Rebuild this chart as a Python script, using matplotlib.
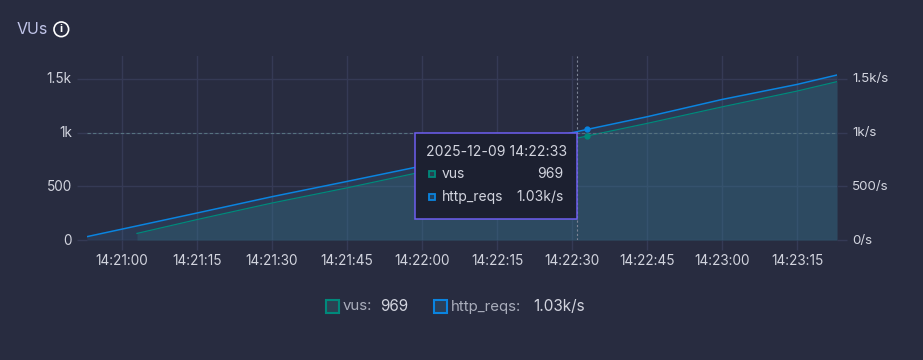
import matplotlib
matplotlib.use("Agg")
import matplotlib.pyplot as plt
from matplotlib.patches import Rectangle, Circle
from matplotlib.transforms import ScaledTranslation

plt.rcParams['font.family'] = ['Inter', 'DejaVu Sans']

# seconds after 14:21:00
reqs_t = [-7, 0, 15, 30, 45, 60, 93, 105, 120, 135, 143]
reqs_v = [32, 102, 252, 404, 546, 690, 1030, 1148, 1309, 1449, 1537]
vus_t = [3, 15, 30, 45, 60, 93, 105, 120, 135, 143]
vus_v = [62, 191, 345, 486, 635, 969, 1086, 1240, 1387, 1475]

tick_t = [0, 15, 30, 45, 60, 75, 90, 105, 120, 135]
tick_labels = ['14:21:00', '14:21:15', '14:21:30', '14:21:45', '14:22:00',
               '14:22:15', '14:22:30', '14:22:45', '14:23:00', '14:23:15']
y_ticks = [0, 500, 1000, 1500]
left_labels = ['0', '500', '1k', '1.5k']
right_labels = ['0/s', '500/s', '1k/s', '1.5k/s']

hover_t = 93
hover_vus = 969
hover_reqs = 1030
cursor_t = 91
threshold = 1000

BG = '#282c40'
GRID = '#353a55'
TEXT = '#d2d4de'
GREEN = '#00897b'
BLUE = '#0a84e0'
W, H = 923, 360

fig = plt.figure(figsize=(W / 100, H / 100), dpi=100, facecolor=BG)
ax = fig.add_axes([87 / W, 1 - 240.3 / H, 750 / W, 184 / H], facecolor=BG)
ax.set_xlim(-7, 143)
ax.set_ylim(-2, 1711)

ax.grid(True, color=GRID, lw=1, zorder=0)
ax.set_axisbelow(True)
ax.fill_between(reqs_t, 0, reqs_v, color='#3c72a4', alpha=0.2, lw=0, zorder=1)
ax.fill_between(vus_t, 0, vus_v, color='#337383', alpha=0.3, lw=0, zorder=1)
ax.plot(reqs_t, reqs_v, color=BLUE, lw=1.1, zorder=4)
ax.plot(vus_t, vus_v, color=GREEN, lw=0.9, zorder=3)
ax.axhline(threshold, color='#56727f', lw=0.8, ls=(0, (3, 2)), zorder=3)
ax.axvline(cursor_t, color='#7d8496', lw=0.8, ls=(0, (2, 2)), zorder=3)
ax.plot([hover_t], [hover_reqs], 'o', ms=3.5, color=BLUE, zorder=5)
ax.plot([hover_t], [hover_vus], 'o', ms=3.5, color=GREEN, zorder=5)

for s in ax.spines.values():
    s.set_visible(False)
ax.set_xticks(tick_t)
ax.set_xticklabels(tick_labels)
ax.set_yticks(y_ticks)
ax.set_yticklabels(left_labels)
ax.tick_params(axis='x', length=7, width=1, color=GRID, labelcolor=TEXT, labelsize=9.8, pad=3)
ax.tick_params(axis='y', length=7, width=1, color=GRID, labelcolor=TEXT, labelsize=9.8, pad=4)

ax2 = ax.twinx()
ax2.set_ylim(ax.get_ylim())
ax2.set_yticks(y_ticks)
ax2.set_yticklabels(right_labels)
ax2.tick_params(axis='y', length=7, width=1, color=GRID, labelcolor=TEXT, labelsize=9.6, pad=4)
for s in ax2.spines.values():
    s.set_visible(False)

# y labels sit a little above their gridlines
up = ScaledTranslation(0, 1 / 100, fig.dpi_scale_trans)
for lab in ax.get_yticklabels() + ax2.get_yticklabels():
    lab.set_transform(lab.get_transform() + up)

# overlay in pixels for title, tooltip and legend
ov = fig.add_axes([0, 0, 1, 1], facecolor='none', zorder=10)
ov.set_xlim(0, W)
ov.set_ylim(H, 0)
ov.axis('off')

ov.text(17, 30, 'VUs', color='#c0c4e8', fontsize=11.5, va='center')
ov.add_patch(Circle((61.3, 29.3), 7.3, fc='none', ec='white', lw=1.2))
ov.text(61.3, 29.3, 'i', color='white', fontsize=8, fontweight='bold', ha='center', va='center')

ov.add_patch(Rectangle((414.5, 132.5), 162, 86, fc='#1c2030', ec='#6d5ef0', lw=1.1))
ov.text(425.5, 151.5, '2025-12-09 14:22:33', color=TEXT, fontsize=10.1, va='center')
ov.add_patch(Rectangle((428.5, 171), 6, 6, fc='#26404f', ec=GREEN, lw=1.3))
ov.add_patch(Rectangle((428.5, 194), 6, 6, fc='#1f4060', ec=BLUE, lw=1.3))
ov.text(441.5, 174, 'vus', color=TEXT, fontsize=10, va='center')
ov.text(441.5, 197, 'http_reqs', color=TEXT, fontsize=10, va='center')
ov.text(563.5, 174, str(hover_vus), color=TEXT, fontsize=10, va='center', ha='right')
ov.text(563.5, 197, '1.03k/s', color=TEXT, fontsize=10, va='center', ha='right')

ov.add_patch(Rectangle((326, 300), 12.5, 12.5, fc='#2c4152', ec=GREEN, lw=1.5))
ov.text(343, 306.5, 'vus:', color='#a9adbb', fontsize=10.8, va='center')
ov.text(380, 306.5, str(hover_vus), color=TEXT, fontsize=11, va='center')
ov.add_patch(Rectangle((434, 300), 12.5, 12.5, fc='#2b3f58', ec=BLUE, lw=1.5))
ov.text(451, 306.5, 'http_reqs:', color='#a9adbb', fontsize=10.8, va='center')
ov.text(533, 306.5, '1.03k/s', color=TEXT, fontsize=11, va='center')

fig.savefig('out.png', dpi=100, facecolor=BG)
